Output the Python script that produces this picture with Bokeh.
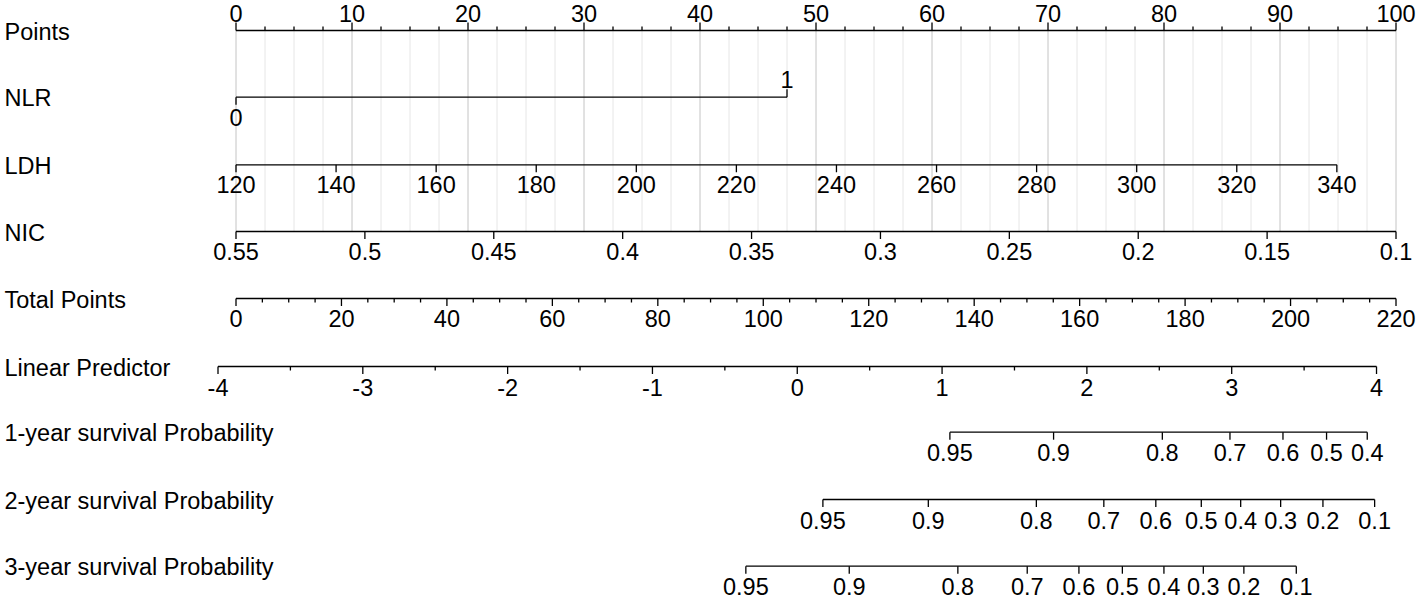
import numpy as np
from bokeh.plotting import figure
from bokeh.models import Range1d
from bokeh.core.properties import value
from bokeh.embed import file_html
from bokeh.resources import INLINE

FONT = value("Liberation Sans")

# ---------------- data ----------------
row_labels = ["Points", "NLR", "LDH", "NIC", "Total Points", "Linear Predictor",
              "1-year survival Probability", "2-year survival Probability",
              "3-year survival Probability"]

points_major = [0, 10, 20, 30, 40, 50, 60, 70, 80, 90, 100]
points_minor_step = 2.5

nlr_levels = ["0", "1"]
nlr_points = [0.0, 47.5]

ldh_ticks = [120, 140, 160, 180, 200, 220, 240, 260, 280, 300, 320, 340]
ldh_value_range = [120, 340]
ldh_points_range = [0.0, 94.9]

nic_ticks = [0.55, 0.5, 0.45, 0.4, 0.35, 0.3, 0.25, 0.2, 0.15, 0.1]
nic_labels = ["0.55", "0.5", "0.45", "0.4", "0.35", "0.3", "0.25", "0.2", "0.15", "0.1"]
nic_value_range = [0.55, 0.1]
nic_points_range = [0.0, 100.0]

total_major = [0, 20, 40, 60, 80, 100, 120, 140, 160, 180, 200, 220]
total_minor_step = 5
total_max = 220          # total points shown at the end of the points scale

lp_major = [-4, -3, -2, -1, 0, 1, 2, 3, 4]
lp_minor_step = 0.5
lp_axis_points = [-1.552, 98.32]   # points-scale position of LP -4 and LP 4

surv1_labels = ["0.95", "0.9", "0.8", "0.7", "0.6", "0.5", "0.4"]
surv1_lp = [1.054, 1.770, 2.521, 2.988, 3.354, 3.655, 3.936]

surv2_labels = ["0.95", "0.9", "0.8", "0.7", "0.6", "0.5", "0.4", "0.3", "0.2", "0.1"]
surv2_lp = [0.177, 0.905, 1.651, 2.117, 2.476, 2.790, 3.062, 3.338, 3.630, 3.987]

surv3_labels = ["0.95", "0.9", "0.8", "0.7", "0.6", "0.5", "0.4", "0.3", "0.2", "0.1"]
surv3_lp = [-0.355, 0.359, 1.109, 1.588, 1.945, 2.245, 2.532, 2.804, 3.084, 3.446]

# ---------------- layout (rows, in page pixels) ----------------
row_y = [30, 96.7, 164.3, 231, 298, 366, 431.7, 499, 565.7]
LAB_FS = "23.5px"
TICK_FS = "23.5px"
MAJ = 7.5
MIN = 4
TXT_SHIFT = -9   # baseline correction


def lin(v, vr, pr):
    v = np.asarray(v, dtype=float)
    return pr[0] + (v - vr[0]) * (pr[1] - pr[0]) / (vr[1] - vr[0])


def lp_x(v):
    return lin(v, [-4, 4], lp_axis_points)


p = figure(width=1417, height=599,
           x_range=Range1d(-20.302, 101.853), y_range=Range1d(599, 0),
           x_axis_type=None, y_axis_type=None,
           toolbar_location=None, output_backend="svg",
           min_border=0, outline_line_color=None)
p.background_fill_color = "white"


def text(xs, ys, labels, align="center", size=TICK_FS, baseline="alphabetic"):
    p.text(x=list(xs), y=[v + TXT_SHIFT for v in ys], text=list(labels), text_font=FONT,
           text_font_size=size, text_align=align, text_baseline=baseline,
           text_color="black")


def hline(x0, x1, y):
    p.segment(x0=[x0], y0=[y], x1=[x1], y1=[y], line_color="black", line_width=1.3)


def ticks(xs, y, length):
    xs = list(xs)
    p.segment(x0=xs, y0=[y] * len(xs), x1=xs, y1=[y + length] * len(xs),
              line_color="black", line_width=1.3)


# grid lines (behind)
grid_minor = [g for g in np.arange(0, 100 + 1e-9, points_minor_step) if g % 10 != 0]
p.segment(x0=grid_minor, y0=[row_y[0]] * len(grid_minor), x1=grid_minor,
          y1=[row_y[3]] * len(grid_minor), line_color="#e6e6e6", line_width=1)
p.segment(x0=points_major, y0=[row_y[0]] * len(points_major), x1=points_major,
          y1=[row_y[3]] * len(points_major), line_color="#c4c4c4", line_width=1)

# row labels
text([-19.96] * len(row_labels), [y + 10 for y in row_y], row_labels,
     align="left", size=LAB_FS)

# Points
y = row_y[0]
hline(0, 100, y)
ticks(points_major, y, -MAJ - 0.5)
ticks(grid_minor, y, -MIN)
text(points_major, [y - 8.3] * len(points_major), [str(v) for v in points_major])

# NLR
y = row_y[1]
hline(nlr_points[0], nlr_points[1], y)
ticks([nlr_points[0]], y, MAJ)
ticks([nlr_points[1]], y, -MAJ - 0.5)
text([nlr_points[0]], [y + 29.3], [nlr_levels[0]])
text([nlr_points[1]], [y - 8.4], [nlr_levels[1]])

# LDH
y = row_y[2]
lx = lin(ldh_ticks, ldh_value_range, ldh_points_range)
hline(lx[0], lx[-1], y)
ticks(lx, y, MAJ)
text(lx, [y + 29] * len(lx), [str(v) for v in ldh_ticks])

# NIC
y = row_y[3]
nx = lin(nic_ticks, nic_value_range, nic_points_range)
hline(nx[0], nx[-1], y)
ticks(nx, y, MAJ)
text(nx, [y + 28.5] * len(nx), nic_labels)

# Total Points
y = row_y[4]
tx = lin(total_major, [0, total_max], [0, 100])
hline(0, 100, y)
ticks(tx, y, MAJ)
tmin = [v for v in np.arange(0, total_max + 1e-9, total_minor_step) if v % 20 != 0]
ticks(lin(tmin, [0, total_max], [0, 100]), y, MIN)
text(tx, [y + 29] * len(tx), [str(v) for v in total_major])

# Linear Predictor
y = row_y[5]
lpx = lp_x(lp_major)
hline(lpx[0], lpx[-1], y)
ticks(lpx, y, MAJ)
lpm = [v for v in np.arange(-4, 4 + 1e-9, lp_minor_step) if v % 1 != 0]
ticks(lp_x(lpm), y, MIN)
text(lpx, [y + 29.5] * len(lpx), [str(v) for v in lp_major])

# survival rows
for yy, labs, lps in [(row_y[6], surv1_labels, surv1_lp),
                      (row_y[7], surv2_labels, surv2_lp),
                      (row_y[8], surv3_labels, surv3_lp)]:
    sx = lp_x(lps)
    hline(sx[0], sx[-1], yy)
    ticks(sx, yy, MAJ)
    text(sx, [yy + 29.5] * len(sx), labs)

open("out.html", "w").write(file_html(p, INLINE))
